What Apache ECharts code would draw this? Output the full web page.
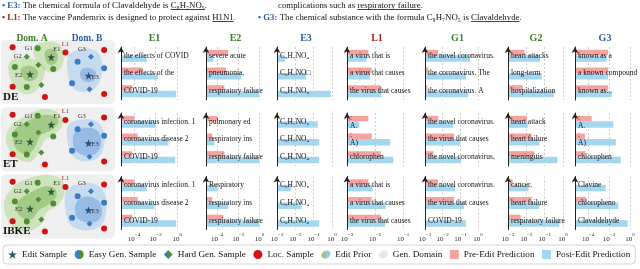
<!DOCTYPE html>
<html><head><meta charset="utf-8">
<script src="https://cdn.jsdelivr.net/npm/echarts@6/dist/echarts.min.js"></script>
<style>html,body{margin:0;padding:0;background:#fff}#c{width:640px;height:269px}</style>
</head><body><div id="c"></div>
<script>
// ================= DATA =================
const columns = ['E1','E2','E3','L1','G1','G2','G3'];
const methods = ['DE','ET','IBKE'];
const tickValues = [
  [1e-4,1e-2,1],[1e-4,1e-2,1],[1e-3,1e-2,1e-1,1],[1e-3,1e-2,1e-1],
  [1e-3,1e-2,1e-1,1],[1e-3,1e-2,1e-1,1],[1e-4,1e-2,1]
];
const axisMin = [Math.pow(10,-5.2),Math.pow(10,-5.05),1e-3,1e-3,1e-3,1e-3,Math.pow(10,-5.25)];
const axisMax = [10,Math.pow(10,0.52),Math.pow(10,0.16),Math.pow(10,-0.86),Math.pow(10,0.68),Math.pow(10,0.05),Math.pow(10,0.48)];
const axisBase = [100,100,10,10,10,10,100];

const DE_labels = [
  ['the effects of COVID','the effects of the','COVID-19'],
  ['severe acute','pneumonia,','respiratory failure'],
  ['C₈H₇NO₄','C₈H₇NO□','C₈H₇NO₅'],
  ['a virus that is','a virus that causes','the virus that causes'],
  ['the novel coronavirus.','the coronavirus. The','the coronavirus. A'],
  ['heart attacks','long-term','hospitalization'],
  ['known as a','a known compound','known as...']
];
const DE_pre = [
  [null,6e-4,7e-5],[1.1e-3,7e-4,4.8e-4],[null,null,null],[5.8e-3,7.6e-3,0.016],
  [5.6e-3,1.5e-3,1.35e-3],[7.8e-3,null,6.3e-3],[8.5e-3,8.5e-3,8.5e-3]
];
const DE_post = [
  [1.5e-3,0.016,0.76],[4.4e-5,0.018,0.95],[2.7e-3,0.038,0.85],[5e-3,6.6e-3,0.017],
  [0.35,0.21,0.28],[0.056,0.069,0.32],[6e-3,8.5e-3,0.018]
];
const ET_labels = [
  ['coronavirus infection. 1','coronavirus disease 2','COVID-19'],
  ['pulmonary ed','respiratory ins','respiratory failure'],
  ['C₈H₇NO₅','C₈H₇NO₄','C₈H₇NO₄'],
  [':\nA.',':\nA)','chlorophen'],
  ['the novel coronavirus.','the virus that causes','the novel coronavirus,'],
  ['heart attack','heart failure','meningitis'],
  [':\nA.',':\nA)','chlorophen']
];
const ET_pre = [
  [1.07e-4,2.2e-4,7e-5],[1.1e-4,3.5e-5,4.8e-4],[null,null,null],[5.8e-3,7.6e-3,0.016],
  [5.6e-3,0.044,3e-3],[0.0105,0.0195,0.026],[2.2e-4,5e-5,5e-5]
];
const ET_post = [
  [9e-3,0.155,0.65],[1.3e-5,5.5e-5,0.97],[0.166,0.2,0.2],[2.7e-3,0.035,0.045],
  [0.04,0.095,0.11],[0.012,0.051,0.49],[0.026,0.044,0.13]
];
const IBKE_labels = [
  ['coronavirus infection. 1','coronavirus disease 2','COVID-19'],
  ['Respiratory','respiratory ins','respiratory failure'],
  ['C₈H₇NO₅','C₈H₇NO₄','C₈H₇NO₅'],
  ['a virus that is','a virus that causes','the virus that causes'],
  ['the novel coronavirus.','the virus that causes','COVID-19'],
  ['cancer,','heart failure','respiratory failure'],
  ['Clavine','chloropheno','Clavaldehyde']
];
const IBKE_pre = [
  [1.07e-4,2.2e-4,7e-5],[null,3.5e-5,3.8e-4],[null,null,null],[5.8e-3,7.6e-3,0.016],
  [5.6e-3,0.044,null],[1.8e-3,0.0195,4.9e-3],[null,6.5e-5,null]
];
const IBKE_post = [
  [1.5e-3,7.8e-3,0.8],[1.1e-4,1.1e-3,0.97],[5.8e-3,0.022,0.2],[8.3e-3,0.024,0.023],
  [0.05,0.16,0.21],[0.013,0.051,0.63],[4.9e-3,0.077,0.6]
];

// diagram points (box units: x 0-115, y 0-64)
const locPts = [[11.7,7.3,''],[65,12.5,'L1'],[104,10,''],[11.7,46.7,''],[44.3,57,''],[104,54,'']];
const easyA = [[37,8.3,'G1'],[14,27,''],[26,47,''],[52.7,29,'']];
const hardA = [[26,16.7,'G2'],[37.7,25,''],[40.7,45,'']];
const editA = [[50.7,17.3,'E1'],[29.3,34.3,'E2']];
const easyB = [[77.3,21.7,''],[104,28.3,''],[71.7,43.3,'']];
const hardB = [[90.7,16.7,'G3'],[89.3,49.3,'']];
const editB = [[88.3,35.7,'E3']];

const domA_DE = [
  [[34,6],[46,1.5],[58,4],[63,13],[62,25],[55,32],[45,31],[38,24],[33,15]],
  [[9,22],[22,17],[35,20],[44,27],[42,40],[34,52],[24,54],[14,47],[8,34]]
];
const priorA_DE = [
  [[45,11],[52,9],[57,14],[56,22],[50,25],[45,20]],
  [[21,28],[30,26],[37,31],[35,39],[27,41],[21,36]]
];
const domB_DE = [[[68,16],[80,9],[94,10],[101,18],[102,33],[97,46],[86,52],[74,49],[68,36]]];
const priorB_DE = [[[81,30],[89,28],[96,33],[94,40],[86,42],[80,37]]];
const domA_ET = [[[10,18],[22,10],[36,3],[50,2],[60,8],[62,18],[54,27],[44,33],[38,45],[30,54],[18,52],[8,42],[5,30]]];
const priorA_ET = [[[14,22],[26,14],[40,8],[52,8],[58,14],[52,22],[40,28],[34,40],[26,47],[16,42],[12,32]]];
const domB_ET = [[[68,18],[80,12],[95,13],[103,22],[104,38],[98,50],[84,54],[72,48],[67,33]]];
const priorB_ET = [[[74,26],[86,20],[98,24],[101,36],[96,46],[84,48],[74,41]]];
const domA_IBKE = [[[6,20],[18,8],[34,2],[50,0.5],[62,6],[64,18],[58,30],[46,38],[40,50],[28,57],[14,54],[5,42],[3,30]]];
const priorA_IBKE = [[[18,26],[30,18],[44,12],[54,14],[56,22],[48,30],[38,36],[32,44],[22,44],[16,36]]];
const domB_IBKE = [[[66,16],[80,9],[96,10],[105,20],[106,38],[100,52],[84,56],[70,50],[65,34]]];
const priorB_IBKE = [[[76,28],[86,22],[98,26],[102,36],[98,46],[86,48],[76,42]]];

const legendNames = ['Edit Sample','Easy Gen. Sample','Hard Gen. Sample','Loc. Sample','Edit Prior','Gen. Domain','Pre-Edit Prediction','Post-Edit Prediction'];

// ================= STYLE / LAYOUT =================
const FONT = 'Liberation Serif';
const PINK = '#f4a3a3', BLUE = '#a5d6f0';
const GREEN = '#4e8f32', BLUEPT = '#3b7cc4', RED = '#d01414';
const STAR = 'path://M50,0L61.2,34.5L97.6,34.5L68.2,55.9L79.4,90.5L50,69.1L20.6,90.5L31.8,55.9L2.4,34.5L38.8,34.5Z';
const BLOB = 'path://M10,2C16,0 22,4 20,10C19,16 12,20 6,17C0,14 1,6 10,2Z';
const colTitleColor = ['#3d7a2a','#3d7a2a','#2d5c9c','#a81e1e','#3d7a2a','#3d7a2a','#2d5c9c'];
const colSpine = [121,206,277,347,425,508,575];
const colEnd = [188,265,335,407,490,564,635];
const rowTop = [47,113,176.5];
const rowBottom = [100,166,229.5];
const boxTop = [40,107.5,174.5];
const boxH = 64;

const chart = echarts.init(document.getElementById('c'), null, {renderer:'canvas', width:640, height:269});
const grids = [], xAxes = [], yAxes = [], series = [];

function half(c1, c2) {
  return new echarts.graphic.LinearGradient(0,0,1,0,[
    {offset:0,color:c1},{offset:0.5,color:c1},{offset:0.5,color:c2},{offset:1,color:c2}]);
}
function tickFormatter(c) {
  return function (v) {
    const e = Math.log10(v), k = Math.round(e);
    if (Math.abs(e - k) > 1e-6) return '';
    if (!tickValues[c].some(t => Math.round(Math.log10(t)) === k)) return '';
    return '{b|10}{s|' + (k < 0 ? '−' + (-k) : k) + '}';
  };
}

const rowsData = [[DE_labels,DE_pre,DE_post],[ET_labels,ET_pre,ET_post],[IBKE_labels,IBKE_pre,IBKE_post]];
for (let r = 0; r < 3; r++) {
  for (let c = 0; c < 7; c++) {
    const gi = grids.length;
    const [labs, pre, post] = [rowsData[r][0][c], rowsData[r][1][c], rowsData[r][2][c]];
    grids.push({left: colSpine[c], top: rowTop[r], width: colEnd[c]-colSpine[c], height: rowBottom[r]-rowTop[r]});
    xAxes.push({
      gridIndex: gi, type: 'log', logBase: axisBase[c], min: axisMin[c], max: axisMax[c], startValue: axisMin[c],
      axisLine: {onZero:false, symbol:['none','arrow'], symbolSize:[5,6], lineStyle:{color:'#222', width:1}},
      axisTick: {show:false},
      splitLine: {show:true, showMinLine:false, showMaxLine:false, lineStyle:{type:[2,2], color:'#b8b8b8', width:0.7}},
      axisLabel: {show: r === 2, formatter: tickFormatter(c), margin: 3, showMinLabel:true, showMaxLabel:false,
        rich: {b:{fontSize:7, fontFamily:FONT, color:'#222', lineHeight:10, verticalAlign:'bottom'},
               s:{fontSize:5, fontFamily:FONT, color:'#222', lineHeight:10, verticalAlign:'top'}}}
    });
    yAxes.push({
      gridIndex: gi, type: 'category', data: labs.slice().reverse(), z: 10,
      axisLine: {onZero:false, symbol:['none','arrow'], symbolSize:[5,6], lineStyle:{color:'#222', width:1}},
      axisTick: {show:false}, splitLine:{show:false},
      axisLabel: {inside:true, interval:0, margin:3, fontSize:7.5, lineHeight:8, fontFamily:FONT, color:'#111'}
    });
    series.push({type:'bar', name:'Pre-Edit Prediction', xAxisIndex:gi, yAxisIndex:gi, data: pre.slice().reverse(),
      barWidth:5.5, barGap:'0%', itemStyle:{color:PINK}, silent:true});
    series.push({type:'bar', name:'Post-Edit Prediction', xAxisIndex:gi, yAxisIndex:gi, data: post.slice().reverse(),
      barWidth:6.5, barGap:'0%', itemStyle:{color:BLUE}, silent:true});
  }
}

// diagram panels
const labelPos = {L1:'top', G1:'left', E1:[6,-8], G2:'left', E2:[-11,1], G3:[-10,-8], E3:[7,2]};
function ptData(arr) {
  return arr.map(p => ({value:[p[0],p[1]], name:p[2],
    label:{show: p[2] !== '', position: labelPos[p[2]] || 'left'}}));
}
function scatter(name, arr, gi, symbol, size, color, labColor) {
  return {type:'scatter', name, xAxisIndex:gi, yAxisIndex:gi, symbol, symbolSize:size, z:5, silent:true,
    itemStyle:{color, opacity:1}, data: ptData(arr),
    label:{formatter:'{b}', fontSize:6.5, fontFamily:FONT, color:labColor, distance:2}};
}
function blobs(name, list, gi, fill) {
  return list.map(verts => ({type:'custom', name, coordinateSystem:'cartesian2d', xAxisIndex:gi, yAxisIndex:gi, z:1, silent:true,
    data: verts,
    renderItem: (params, api) => params.dataIndex !== 0 ? null :
      {type:'polygon', shape:{points: verts.map(v => api.coord(v)), smooth:0.35}, style:{fill}}}));
}
const blobSets = [
  [domA_DE,priorA_DE,domB_DE,priorB_DE],
  [domA_ET,priorA_ET,domB_ET,priorB_ET],
  [domA_IBKE,priorA_IBKE,domB_IBKE,priorB_IBKE]
];
const graphics = [];
for (let m = 0; m < 3; m++) {
  const gi = grids.length;
  grids.push({left:1, top:boxTop[m], width:114, height:boxH});
  xAxes.push({gridIndex:gi, type:'value', min:0, max:115, show:false, splitLine:{show:false}});
  yAxes.push({gridIndex:gi, type:'value', min:0, max:64, inverse:true, show:false, splitLine:{show:false}});
  const [dA, pA, dB, pB] = blobSets[m];
  series.push(...blobs('Gen. Domain', dA, gi, 'rgba(165,212,125,0.45)'));
  series.push(...blobs('Edit Prior', pA, gi, 'rgba(110,170,70,0.45)'));
  series.push(...blobs('Gen. Domain', dB, gi, 'rgba(150,195,240,0.45)'));
  series.push(...blobs('Edit Prior', pB, gi, 'rgba(90,150,220,0.45)'));
  series.push(scatter('Loc. Sample', locPts, gi, 'circle', 6, RED, '#b01e1e'));
  series.push(scatter('Easy Gen. Sample', easyA, gi, 'circle', 6, GREEN, '#333'));
  series.push(scatter('Easy Gen. Sample', easyB, gi, 'circle', 6, BLUEPT, '#333'));
  series.push(scatter('Hard Gen. Sample', hardA, gi, 'diamond', 6, GREEN, '#333'));
  series.push(scatter('Hard Gen. Sample', hardB, gi, 'diamond', 6, BLUEPT, '#333'));
  series.push(scatter('Edit Sample', editA, gi, STAR, 8, '#2f5a3a', '#333'));
  series.push(scatter('Edit Sample', editB, gi, STAR, 8, '#2b4f82', '#333'));
  graphics.push({type:'rect', z:-1, shape:{x:1, y:boxTop[m], width:114, height:boxH, r:5}, style:{fill:'#efefef'}, silent:true});
  graphics.push({type:'text', z:100, x:3, y:boxTop[m]+boxH-7, style:{text:methods[m], fontFamily:FONT, fontSize:11, fontWeight:'bold', fill:'#111', verticalAlign:'middle'}, silent:true});
}

// titles
graphics.push({type:'text', x:32, y:38.5, style:{text:'Dom. A', fontFamily:FONT, fontSize:9.5, fontWeight:'bold', fill:'#3d7a2a', align:'center', verticalAlign:'middle'}});
graphics.push({type:'text', x:87, y:38.5, style:{text:'Dom. B', fontFamily:FONT, fontSize:9.5, fontWeight:'bold', fill:'#2d5c9c', align:'center', verticalAlign:'middle'}});
columns.forEach((t, c) => graphics.push({type:'text', x:(colSpine[c]+colEnd[c])/2, y:38.5,
  style:{text:t, fontFamily:FONT, fontSize:10, fontWeight:'bold', fill:colTitleColor[c], align:'center', verticalAlign:'middle'}}));

// header sentences
const UL = new echarts.graphic.LinearGradient(0,0,0,1,[
  {offset:0,color:'rgba(0,0,0,0)'},{offset:0.86,color:'rgba(0,0,0,0)'},{offset:0.86,color:'#444'},
  {offset:0.95,color:'#444'},{offset:0.95,color:'rgba(0,0,0,0)'},{offset:1,color:'rgba(0,0,0,0)'}]);
const richHdr = {
  bb:{fill:'#2d5c9c', fontWeight:'bold', fontFamily:FONT, fontSize:8.8, lineHeight:11},
  br:{fill:'#a81e1e', fontWeight:'bold', fontFamily:FONT, fontSize:8.8, lineHeight:11},
  u:{fill:'#111', fontFamily:FONT, fontSize:8.8, lineHeight:11, backgroundColor:UL}
};
function hdr(x, y, text) {
  graphics.push({type:'text', x, y, style:{text, rich:richHdr, fontFamily:FONT, fontSize:8.8, fill:'#111', verticalAlign:'middle'}});
}
hdr(2, 6, '{bb|• E3:} The chemical formula of Clavaldehyde is {u|C₈H₇NO₅}.');
hdr(278, 6, 'complications such as {u|respiratory failure}.');
hdr(2, 18, '{br|• L1:} The vaccine Pandemrix is designed to protect against {u|H1N1}.');
hdr(258, 18, '{bb|• G3:} The chemical substance with the formula C₈H₇NO₅ is {u|Clavaldehyde}.');

const legendData = [
  {name:'Edit Sample', icon:STAR, itemStyle:{color:'#2e5566'}},
  {name:'Easy Gen. Sample', icon:'circle', itemStyle:{color:half(BLUEPT, GREEN)}},
  {name:'Hard Gen. Sample', icon:'diamond', itemStyle:{color:half(BLUEPT, GREEN)}},
  {name:'Loc. Sample', icon:'circle', itemStyle:{color:RED}},
  {name:'Edit Prior', icon:BLOB, itemStyle:{color:half('#9cc97e','#9bc4ec')}},
  {name:'Gen. Domain', icon:BLOB, itemStyle:{color:'#dfe8ef'}},
  {name:'Pre-Edit Prediction', icon:'rect', itemStyle:{color:PINK}},
  {name:'Post-Edit Prediction', icon:'rect', itemStyle:{color:BLUE}}
];

chart.setOption({
  animation:false,
  grid: grids, xAxis: xAxes, yAxis: yAxes, series,
  graphic: graphics,
  legend: {data: legendData, selectedMode:false, left:3, top:245, width:636, itemWidth:9, itemHeight:9, itemGap:7.5,
    padding:[5,5], borderColor:'#c8c8c8', borderWidth:0.8, borderRadius:4,
    textStyle:{fontFamily:FONT, fontSize:9.2, color:'#111'}}
});
</script></body></html>
